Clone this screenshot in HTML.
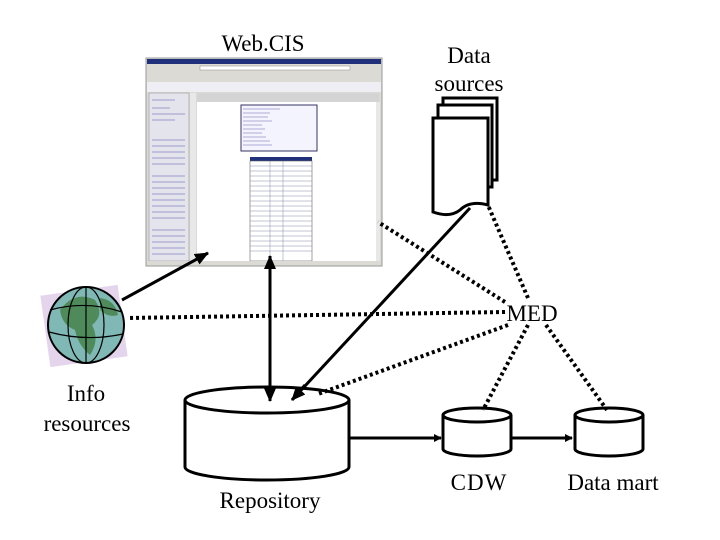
<!DOCTYPE html>
<html><head><meta charset="utf-8"><style>
html,body{margin:0;padding:0;background:#fff;}
svg{display:block;}
text{font-family:"Liberation Serif",serif;fill:#000;}
</style></head><body>
<svg width="720" height="540" viewBox="0 0 720 540" xmlns="http://www.w3.org/2000/svg">
<defs>
<marker id="ah" markerWidth="8" markerHeight="8" refX="7" refY="4" orient="auto" markerUnits="userSpaceOnUse">
<path d="M0,0 L8,4 L0,8 z" fill="#000"/></marker>
<marker id="ahb" markerWidth="14" markerHeight="12" refX="13" refY="6" orient="auto" markerUnits="userSpaceOnUse">
<path d="M0,0 L14,6 L0,12 z" fill="#000"/></marker>
</defs>

<!-- Screenshot -->
<g>
<rect x="146" y="58" width="236" height="208" fill="#dcdad4" stroke="#999"/>
<rect x="147" y="59" width="234" height="5" fill="#20307a"/>
<rect x="147" y="65" width="234" height="16" fill="#dcdad4"/>
<rect x="200" y="66" width="150" height="4" fill="#fff" stroke="#888" stroke-width="0.5"/>
<rect x="147" y="82" width="234" height="10" fill="#eeeef4"/>
<rect x="149" y="93" width="40" height="168" fill="#e4e4ec" stroke="#888" stroke-width="0.5"/>
<rect x="190" y="93" width="6" height="168" fill="#e8e8e8"/>
<rect x="197" y="93" width="182" height="9" fill="#d4d4d4"/>
<rect x="197" y="102" width="180" height="159" fill="#fff"/>
<rect x="376" y="102" width="4" height="159" fill="#e8e8e8"/>
<rect x="241" y="105" width="76" height="46" fill="#f4f4ff" stroke="#336" stroke-width="1"/>
<g stroke="#66a" stroke-width="0.6">
<line x1="243" y1="109" x2="280" y2="109"/><line x1="243" y1="113" x2="270" y2="113"/>
<line x1="243" y1="117" x2="268" y2="117"/><line x1="243" y1="121" x2="272" y2="121"/>
<line x1="243" y1="125" x2="262" y2="125"/><line x1="243" y1="129" x2="265" y2="129"/>
<line x1="243" y1="133" x2="262" y2="133"/><line x1="243" y1="137" x2="266" y2="137"/>
<line x1="243" y1="141" x2="270" y2="141"/><line x1="243" y1="145" x2="272" y2="145"/>
</g>
<rect x="250" y="157" width="62" height="4" fill="#20307a"/>
<rect x="250" y="161" width="62" height="100" fill="#fff" stroke="#666" stroke-width="0.6"/>
<g stroke="#88a" stroke-width="0.5">
<line x1="250" y1="166" x2="312" y2="166"/><line x1="250" y1="171" x2="312" y2="171"/>
<line x1="250" y1="176" x2="312" y2="176"/><line x1="250" y1="181" x2="312" y2="181"/>
<line x1="250" y1="186" x2="312" y2="186"/><line x1="250" y1="191" x2="312" y2="191"/>
<line x1="250" y1="196" x2="312" y2="196"/><line x1="250" y1="201" x2="312" y2="201"/>
<line x1="250" y1="206" x2="312" y2="206"/><line x1="250" y1="211" x2="312" y2="211"/>
<line x1="250" y1="216" x2="312" y2="216"/><line x1="250" y1="221" x2="312" y2="221"/>
<line x1="250" y1="226" x2="312" y2="226"/><line x1="250" y1="231" x2="312" y2="231"/>
<line x1="250" y1="236" x2="312" y2="236"/><line x1="250" y1="241" x2="312" y2="241"/>
<line x1="250" y1="246" x2="312" y2="246"/><line x1="250" y1="251" x2="312" y2="251"/>
<line x1="270" y1="161" x2="270" y2="261"/><line x1="283" y1="161" x2="283" y2="261"/>
</g>
<g stroke="#55a" stroke-width="0.6">
<line x1="152" y1="100" x2="175" y2="100"/><line x1="152" y1="108" x2="170" y2="108"/>
<line x1="152" y1="114" x2="185" y2="114"/><line x1="152" y1="120" x2="175" y2="120"/>
<line x1="152" y1="140" x2="185" y2="140"/><line x1="152" y1="146" x2="185" y2="146"/>
<line x1="152" y1="152" x2="185" y2="152"/><line x1="152" y1="158" x2="185" y2="158"/>
<line x1="152" y1="164" x2="185" y2="164"/><line x1="152" y1="176" x2="185" y2="176"/>
<line x1="152" y1="182" x2="185" y2="182"/><line x1="152" y1="188" x2="185" y2="188"/>
<line x1="152" y1="194" x2="185" y2="194"/><line x1="152" y1="200" x2="185" y2="200"/>
<line x1="152" y1="206" x2="185" y2="206"/><line x1="152" y1="212" x2="185" y2="212"/>
<line x1="152" y1="218" x2="185" y2="218"/><line x1="152" y1="230" x2="185" y2="230"/>
<line x1="152" y1="236" x2="185" y2="236"/><line x1="152" y1="242" x2="185" y2="242"/>
<line x1="152" y1="248" x2="185" y2="248"/><line x1="152" y1="254" x2="185" y2="254"/>
</g>
<rect x="147" y="261" width="234" height="4" fill="#dcdad4"/>
</g>
<text x="263" y="51" font-size="23" text-anchor="middle">Web.CIS</text>

<!-- Data sources -->
<text x="469" y="63" font-size="23" text-anchor="middle">Data</text>
<text x="469" y="91" font-size="23" text-anchor="middle">sources</text>
<rect x="443" y="98" width="54" height="82" fill="#fff" stroke="#000" stroke-width="3"/>
<rect x="438" y="105" width="54" height="82" fill="#fff" stroke="#000" stroke-width="3"/>
<path d="M433,118 L488,118 L488,205 Q470,200 460,210 Q450,218 433,212 Z" fill="#fff" stroke="#000" stroke-width="3"/>

<!-- dotted lines -->
<g stroke="#000" stroke-width="4" stroke-dasharray="3,3" fill="none">
<line x1="505" y1="302" x2="378" y2="222"/>
<line x1="528" y1="298" x2="487" y2="203"/>
<line x1="505" y1="312" x2="128" y2="318"/>
<line x1="508" y1="325" x2="318" y2="394"/>
<line x1="528" y1="325" x2="483" y2="410"/>
<line x1="546" y1="325" x2="607" y2="410"/>
</g>
<text x="532" y="321" font-size="23" text-anchor="middle">MED</text>

<!-- Globe -->
<rect x="45" y="290" width="78" height="72" fill="#e4d4ec" transform="rotate(-8 84 326)"/>
<circle cx="86" cy="325" r="38" fill="#7fb8b4" stroke="#000" stroke-width="2"/>
<path d="M60,310 Q75,290 95,300 Q105,315 92,325 Q100,340 90,355 Q78,345 75,330 Q62,325 60,310Z" fill="#4e8a5a"/>
<path d="M100,298 Q115,300 118,315 Q108,318 100,310Z" fill="#4e8a5a"/>
<g stroke="#000" stroke-width="1.2" fill="none">
<ellipse cx="86" cy="325" rx="18" ry="38"/>
<path d="M50,310 Q86,300 122,312"/><path d="M49,332 Q86,342 123,334"/>
<line x1="86" y1="287" x2="86" y2="363"/>
</g>

<text x="86" y="401" font-size="23" text-anchor="middle">Info</text>
<text x="87" y="431" font-size="23" text-anchor="middle">resources</text>

<!-- solid arrows -->
<g stroke="#000" stroke-width="3" fill="none">
<line x1="122" y1="300" x2="208" y2="253" marker-end="url(#ahb)"/>
<line x1="270" y1="300" x2="270" y2="256" marker-end="url(#ahb)"/>
<line x1="270" y1="300" x2="270" y2="401" marker-end="url(#ahb)"/>
<line x1="470" y1="208" x2="292" y2="400" marker-end="url(#ahb)"/>
<line x1="350" y1="438" x2="441" y2="438" marker-end="url(#ah)"/>
<line x1="511" y1="438" x2="572" y2="438" marker-end="url(#ah)"/>
</g>

<!-- Repository -->
<path d="M185,400 L185,467 A82,13 0 0 0 349,467 L349,400" fill="#fff" stroke="#000" stroke-width="3"/>
<ellipse cx="267" cy="400" rx="82" ry="13" fill="none" stroke="#000" stroke-width="3"/>
<line x1="270" y1="380" x2="270" y2="401" stroke="#000" stroke-width="3" marker-end="url(#ahb)"/>
<line x1="305" y1="385" x2="292" y2="400" stroke="#000" stroke-width="3" marker-end="url(#ahb)"/>
<text x="270" y="508" font-size="23" text-anchor="middle">Repository</text>

<!-- CDW -->
<path d="M443,415 L443,449 A34,7 0 0 0 511,449 L511,415" fill="#fff" stroke="#000" stroke-width="3"/>
<ellipse cx="477" cy="415" rx="34" ry="7" fill="none" stroke="#000" stroke-width="3"/>
<text x="479" y="490" font-size="23" text-anchor="middle" letter-spacing="1">CDW</text>

<!-- Data mart -->
<path d="M575,415 L575,449 A34,7 0 0 0 643,449 L643,415" fill="#fff" stroke="#000" stroke-width="3"/>
<ellipse cx="609" cy="415" rx="34" ry="7" fill="none" stroke="#000" stroke-width="3"/>
<text x="613" y="490" font-size="23" text-anchor="middle">Data mart</text>
</svg>
</body></html>
